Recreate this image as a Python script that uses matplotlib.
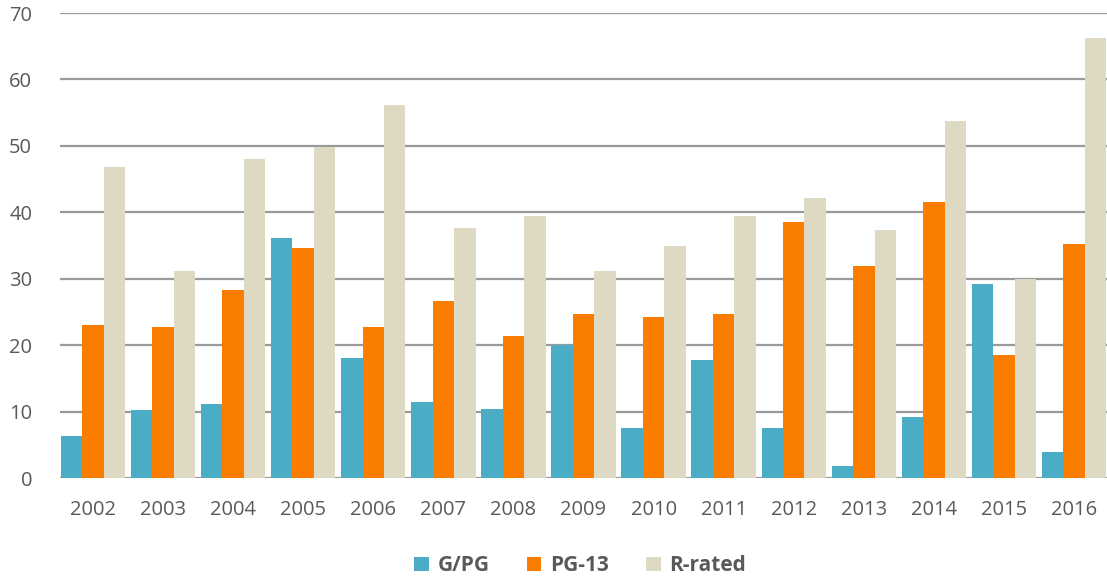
import numpy as np
import matplotlib.pyplot as plt

years = ['2002', '2003', '2004', '2005', '2006', '2007', '2008', '2009',
         '2010', '2011', '2012', '2013', '2014', '2015', '2016']
g_pg = [6.3, 10.3, 11.1, 36.1, 18.1, 11.5, 10.4, 20.0, 7.5, 17.8, 7.5, 1.8, 9.2, 29.2, 3.9]
pg13 = [23.1, 22.7, 28.3, 34.6, 22.7, 26.7, 21.4, 24.7, 24.3, 24.7, 38.6, 32.0, 41.5, 18.6, 35.3]
r_rated = [46.8, 31.2, 48.0, 49.9, 56.2, 37.7, 39.4, 31.2, 34.9, 39.4, 42.2, 37.4, 53.7, 30.0, 66.3]

plt.rcParams['font.family'] = ['Open Sans', 'DejaVu Sans']

fig = plt.figure(figsize=(11.07, 5.81), dpi=100)
ax = fig.add_axes([0.0542, 0.177, 0.9458, 0.8006])

x = np.arange(len(years))
w = 0.306
ax.bar(x - w, g_pg, w, color='#4BACC6', label='G/PG', zorder=3)
ax.bar(x, pg13, w, color='#FA7D00', label='PG-13', zorder=3)
ax.bar(x + w, r_rated, w, color='#DDD9C3', label='R-rated', zorder=3)

ax.set_xlim(-0.47, len(years) - 1 + 0.47)
ax.set_ylim(0, 70)
ax.set_yticks(range(0, 71, 10))
ax.set_xticks(x)
ax.set_xticklabels(years)
ax.grid(axis='y', color='#9a9a9a', linewidth=1.6, zorder=0)
for s in ax.spines.values():
    s.set_visible(False)
ax.tick_params(length=0, labelsize=14.5, colors='#595959')
ax.tick_params(axis='y', pad=20)
ax.tick_params(axis='x', pad=16)

fig.legend(loc='center', bbox_to_anchor=(0.524, 0.026), ncol=3, frameon=False,
           prop={'size': 15, 'weight': 'bold'}, labelcolor='#595959',
           handlelength=0.7, handleheight=0.7, handletextpad=0.4, columnspacing=1.8)

fig.savefig('out.png', dpi=100)
